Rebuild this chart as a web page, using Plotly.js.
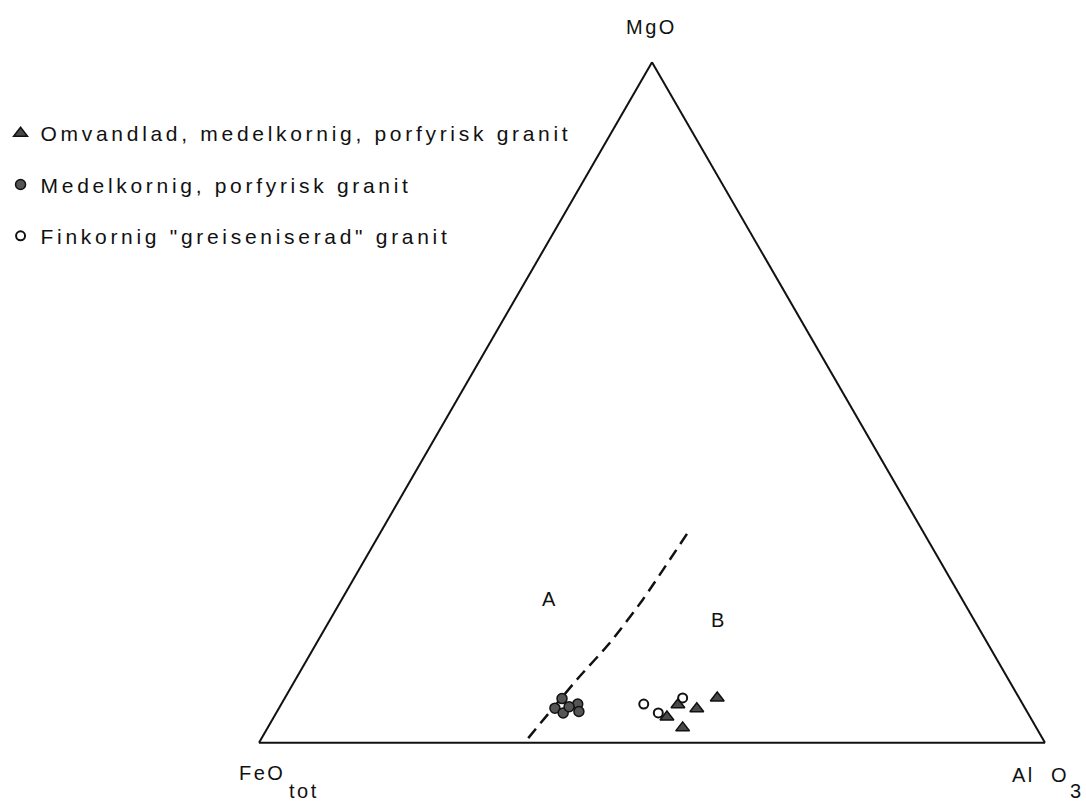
<!DOCTYPE html>
<html>
<head>
<meta charset="utf-8">
<script src="https://cdn.plot.ly/plotly-3.0.1.min.js"></script>
<style>
  html, body { margin: 0; padding: 0; background: #fff; }
  #chart { width: 1086px; height: 803px; }
  /* widely tracked lettering, as in the printed diagram
     (global selectors so Plotly's text measurement sees the same spacing) */
  text.legendtext { letter-spacing: 3.7px; }
  .annotation-text, .textpoint text { letter-spacing: 2.5px; }
</style>
</head>
<body>
<div id="chart"></div>
<script>
// Compositions in percent of MgO + FeO(tot) + Al2O3 (sum = 100)

// Omvandlad, medelkornig, porfyrisk granit
const omvMgO = [3.8, 5.6, 5.0, 6.6, 2.2];
const omvFeO = [46.2, 43.9, 41.8, 38.4, 45.0];
const omvAl  = [50.0, 50.5, 53.2, 55.0, 52.8];

// Medelkornig, porfyrisk granit
const medMgO = [6.5, 5.1, 4.4, 5.7, 4.6, 5.3];
const medFeO = [58.2, 59.8, 59.1, 56.6, 57.0, 57.9];
const medAl  = [35.3, 35.1, 36.5, 37.7, 38.4, 36.8];

// Finkornig "greiseniserad" granit
const finMgO = [5.7, 4.4, 6.6];
const finFeO = [48.2, 47.0, 42.8];
const finAl  = [46.1, 48.6, 50.6];

// Boundary between fields A and B
const lineMgO = [0.7, 9.3, 14.7, 21.0, 30.7];
const lineFeO = [65.4, 54.9, 48.0, 40.7, 30.2];
const lineAl  = [33.9, 35.8, 37.3, 38.3, 39.1];

// Field labels
const fieldNames = ['A', 'B'];
const fieldMgO = [20.9, 17.8];
const fieldFeO = [52.6, 32.6];
const fieldAl  = [26.6, 49.6];

const seriesNames = [
  'Omvandlad, medelkornig, porfyrisk granit',
  'Medelkornig, porfyrisk granit',
  'Finkornig "greiseniserad" granit'
];

const FONT = 'Liberation Sans, Arial, sans-serif';
const INK = '#111';

const traces = [
  {
    type: 'scatterternary', mode: 'lines',
    a: lineMgO, b: lineFeO, c: lineAl,
    line: { color: INK, width: 2.5, dash: '12px,7px', shape: 'spline', smoothing: 0.6 },
    showlegend: false, hoverinfo: 'skip'
  },
  {
    type: 'scatterternary', mode: 'text',
    a: fieldMgO, b: fieldFeO, c: fieldAl, text: fieldNames,
    textposition: 'middle center',
    textfont: { family: FONT, size: 20, color: INK },
    showlegend: false, hoverinfo: 'skip'
  },
  {
    type: 'scatterternary', mode: 'markers', name: seriesNames[0], legendgroup: 'g1',
    a: omvMgO, b: omvFeO, c: omvAl,
    marker: { symbol: 'triangle-up', size: 12, color: '#4a4a4a', line: { color: INK, width: 1.5 } }
  },
  {
    type: 'scatterternary', mode: 'markers', name: seriesNames[1], legendgroup: 'g2',
    a: medMgO, b: medFeO, c: medAl,
    marker: { symbol: 'circle', size: 10, color: '#555', line: { color: INK, width: 1.5 } }
  },
  {
    type: 'scatterternary', mode: 'markers', name: seriesNames[2], legendgroup: 'g3',
    a: finMgO, b: finFeO, c: finAl,
    marker: { symbol: 'circle-open', size: 9, color: INK, line: { color: INK, width: 2 } }
  }
];

const hiddenAxis = {
  showline: true, linecolor: INK, linewidth: 2,
  showgrid: false, showticklabels: false, ticks: '',
  title: { text: '' }, min: 0
};

const layout = {
  width: 1086, height: 803,
  margin: { l: 259, r: 41, t: 62, b: 60, autoexpand: false },
  paper_bgcolor: '#fff',
  font: { family: FONT, size: 20, color: INK },
  showlegend: true,
  legend: {
    x: -0.3288, xanchor: 'left', y: 0.925, yanchor: 'top',
    traceorder: 'grouped', tracegroupgap: 21,
    font: { family: FONT, size: 21, color: INK },
    bgcolor: 'rgba(0,0,0,0)'
  },
  ternary: {
    sum: 100,
    domain: { x: [0, 1], y: [0, 1] },
    bgcolor: '#fff',
    aaxis: hiddenAxis,
    baxis: hiddenAxis,
    caxis: hiddenAxis
  },
  annotations: [
    { text: 'MgO', xref: 'paper', yref: 'paper', x: (651 - 259) / 786, y: (743 - 27) / 681,
      showarrow: false, xanchor: 'center', yanchor: 'middle', font: { size: 20 } },
    { text: 'FeO', xref: 'paper', yref: 'paper', x: (262 - 259) / 786, y: (743 - 773) / 681,
      showarrow: false, xanchor: 'center', yanchor: 'middle', font: { size: 20 } },
    { text: 'tot', xref: 'paper', yref: 'paper', x: (304 - 259) / 786, y: (743 - 791) / 681,
      showarrow: false, xanchor: 'center', yanchor: 'middle', font: { size: 20 } },
    { text: 'Al  O', xref: 'paper', yref: 'paper', x: (1040 - 259) / 786, y: (743 - 775) / 681,
      showarrow: false, xanchor: 'center', yanchor: 'middle', font: { size: 20 } },
    { text: '3', xref: 'paper', yref: 'paper', x: (1077 - 259) / 786, y: (743 - 791) / 681,
      showarrow: false, xanchor: 'center', yanchor: 'middle', font: { size: 20 } }
  ]
};

Plotly.newPlot('chart', traces, layout, { staticPlot: true, displayModeBar: false });
</script>
</body>
</html>
